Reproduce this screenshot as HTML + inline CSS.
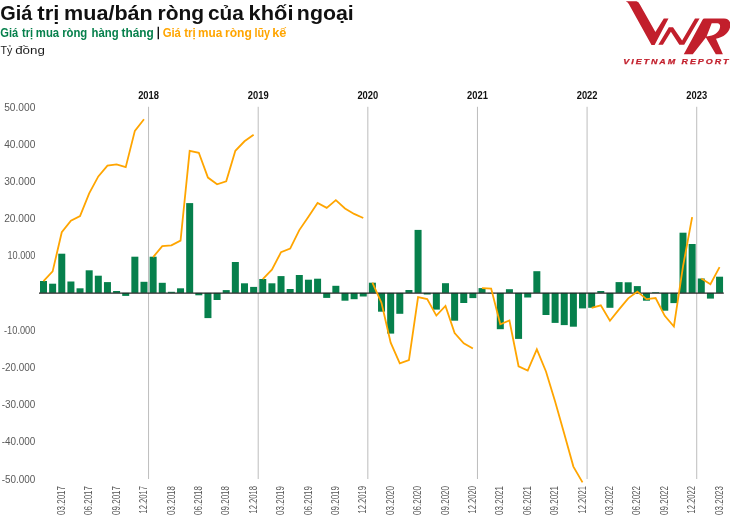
<!DOCTYPE html><html><head><meta charset="utf-8"><title>Giá trị mua/bán ròng của khối ngoại</title>
<style>html,body{margin:0;padding:0;background:#fff;}body{width:730px;height:516px;overflow:hidden;position:relative;}svg{display:block;position:absolute;left:0;top:0;will-change:transform;}.t{font-family:"Liberation Sans",Arial,sans-serif;}</style></head><body>
<svg width="730" height="516" viewBox="0 0 730 516">
<text class="t" x="0.18" y="19.6" font-size="19.5" font-weight="bold" fill="#111" textLength="32.05" lengthAdjust="spacingAndGlyphs">Giá</text>
<text class="t" x="37.37" y="19.6" font-size="19.5" font-weight="bold" fill="#111" textLength="22.11" lengthAdjust="spacingAndGlyphs">trị</text>
<text class="t" x="64.06" y="19.6" font-size="19.5" font-weight="bold" fill="#111" textLength="88.75" lengthAdjust="spacingAndGlyphs">mua/bán</text>
<text class="t" x="157.50" y="19.6" font-size="19.5" font-weight="bold" fill="#111" textLength="46.62" lengthAdjust="spacingAndGlyphs">ròng</text>
<text class="t" x="208.05" y="19.6" font-size="19.5" font-weight="bold" fill="#111" textLength="35.85" lengthAdjust="spacingAndGlyphs">của</text>
<text class="t" x="248.63" y="19.6" font-size="19.5" font-weight="bold" fill="#111" textLength="44.92" lengthAdjust="spacingAndGlyphs">khối</text>
<text class="t" x="296.88" y="19.6" font-size="19.5" font-weight="bold" fill="#111" textLength="56.85" lengthAdjust="spacingAndGlyphs">ngoại</text>
<text class="t" x="0.24" y="36.7" font-size="12" font-weight="bold" fill="#06804c" textLength="17.91" lengthAdjust="spacingAndGlyphs">Giá</text>
<text class="t" x="22.11" y="36.7" font-size="12" font-weight="bold" fill="#06804c" textLength="11.03" lengthAdjust="spacingAndGlyphs">trị</text>
<text class="t" x="35.84" y="36.7" font-size="12" font-weight="bold" fill="#06804c" textLength="23.33" lengthAdjust="spacingAndGlyphs">mua</text>
<text class="t" x="62.14" y="36.7" font-size="12" font-weight="bold" fill="#06804c" textLength="25.17" lengthAdjust="spacingAndGlyphs">ròng</text>
<text class="t" x="91.54" y="36.7" font-size="12" font-weight="bold" fill="#06804c" textLength="27.07" lengthAdjust="spacingAndGlyphs">hàng</text>
<text class="t" x="121.50" y="36.7" font-size="12" font-weight="bold" fill="#06804c" textLength="32.25" lengthAdjust="spacingAndGlyphs">tháng</text>
<text class="t" x="162.63" y="36.7" font-size="12" font-weight="bold" fill="#ffa500" textLength="18.22" lengthAdjust="spacingAndGlyphs">Giá</text>
<text class="t" x="184.30" y="36.7" font-size="12" font-weight="bold" fill="#ffa500" textLength="11.46" lengthAdjust="spacingAndGlyphs">trị</text>
<text class="t" x="198.01" y="36.7" font-size="12" font-weight="bold" fill="#ffa500" textLength="24.26" lengthAdjust="spacingAndGlyphs">mua</text>
<text class="t" x="224.99" y="36.7" font-size="12" font-weight="bold" fill="#ffa500" textLength="26.87" lengthAdjust="spacingAndGlyphs">ròng</text>
<text class="t" x="254.38" y="36.7" font-size="12" font-weight="bold" fill="#ffa500" textLength="15.66" lengthAdjust="spacingAndGlyphs">lũy</text>
<text class="t" x="272.15" y="36.7" font-size="12" font-weight="bold" fill="#ffa500" textLength="14.20" lengthAdjust="spacingAndGlyphs">kế</text>
<line x1="158.3" y1="26.7" x2="158.3" y2="39.2" stroke="#111" stroke-width="1.4"/>
<text class="t" x="0.42" y="54.1" font-size="11.4" fill="#1a1a1a" textLength="11.84" lengthAdjust="spacingAndGlyphs">Tỷ</text>
<text class="t" x="15.21" y="54.1" font-size="11.4" fill="#1a1a1a" textLength="29.68" lengthAdjust="spacingAndGlyphs">đồng</text>
<g fill="#c21f2c">
<path d="M625.7,1.2 L636.5,1.2 Q638.6,1.4 639.9,4.4 L655.4,31.9 L663.8,18.5 L668.5,18.5 L654.6,45 L651.5,45 L628.8,3.9 Q627.6,1.9 625.7,1.2 Z"/>
<path d="M658.3,44.8 L668.8,27.3 L673.0,27.3 L682.1,40.5 L695.0,18.5 L699.6,18.5 L684.2,44.8 L679.3,44.8 L670.9,31.8 L662.9,44.8 Z"/>
<path fill-rule="evenodd" d="M683.8,54.3 L702.4,19.9 Q703.1,18.6 704.6,18.6 L724,18.6 C728.5,18.6 730.8,21.5 730.3,25.8 C729.6,32 724.5,37 716,38.7 L722.9,54.3 L715.8,54.3 L705.9,37.4 L692.8,54.3 Z M711.7,23.2 L717.3,23.2 C720,23.2 720.6,25.8 719.7,28.4 C718.4,32.4 714.5,35.6 706.6,36.4 Z"/>
<text class="t" x="623.3" y="64.1" font-size="7.4" font-weight="bold" font-style="italic" letter-spacing="1.6" textLength="107" lengthAdjust="spacingAndGlyphs" stroke="#c21f2c" stroke-width="0.25">VIETNAM REPORT</text>
</g>
<line x1="148.56" y1="106.8" x2="148.56" y2="479" stroke="#bdbdbd" stroke-width="1"/>
<text class="t" x="148.56" y="98.8" font-size="10" font-weight="bold" fill="#111" text-anchor="middle" textLength="20.8" lengthAdjust="spacingAndGlyphs">2018</text>
<line x1="258.19" y1="106.8" x2="258.19" y2="479" stroke="#bdbdbd" stroke-width="1"/>
<text class="t" x="258.19" y="98.8" font-size="10" font-weight="bold" fill="#111" text-anchor="middle" textLength="20.8" lengthAdjust="spacingAndGlyphs">2019</text>
<line x1="367.83" y1="106.8" x2="367.83" y2="479" stroke="#bdbdbd" stroke-width="1"/>
<text class="t" x="367.83" y="98.8" font-size="10" font-weight="bold" fill="#111" text-anchor="middle" textLength="20.8" lengthAdjust="spacingAndGlyphs">2020</text>
<line x1="477.46" y1="106.8" x2="477.46" y2="479" stroke="#bdbdbd" stroke-width="1"/>
<text class="t" x="477.46" y="98.8" font-size="10" font-weight="bold" fill="#111" text-anchor="middle" textLength="20.8" lengthAdjust="spacingAndGlyphs">2021</text>
<line x1="587.09" y1="106.8" x2="587.09" y2="479" stroke="#bdbdbd" stroke-width="1"/>
<text class="t" x="587.09" y="98.8" font-size="10" font-weight="bold" fill="#111" text-anchor="middle" textLength="20.8" lengthAdjust="spacingAndGlyphs">2022</text>
<line x1="696.72" y1="106.8" x2="696.72" y2="479" stroke="#bdbdbd" stroke-width="1"/>
<text class="t" x="696.72" y="98.8" font-size="10" font-weight="bold" fill="#111" text-anchor="middle" textLength="20.8" lengthAdjust="spacingAndGlyphs">2023</text>
<text class="t" x="35.4" y="110.6" font-size="10.2" fill="#5a5a5a" text-anchor="end" textLength="31.2" lengthAdjust="spacingAndGlyphs">50.000</text>
<text class="t" x="35.4" y="147.8" font-size="10.2" fill="#5a5a5a" text-anchor="end" textLength="31.2" lengthAdjust="spacingAndGlyphs">40.000</text>
<text class="t" x="35.4" y="185.0" font-size="10.2" fill="#5a5a5a" text-anchor="end" textLength="31.2" lengthAdjust="spacingAndGlyphs">30.000</text>
<text class="t" x="35.4" y="222.2" font-size="10.2" fill="#5a5a5a" text-anchor="end" textLength="31.2" lengthAdjust="spacingAndGlyphs">20.000</text>
<text class="t" x="35.4" y="259.4" font-size="10.2" fill="#5a5a5a" text-anchor="end" textLength="27.9" lengthAdjust="spacingAndGlyphs">10.000</text>
<text class="t" x="35.4" y="333.8" font-size="10.2" fill="#5a5a5a" text-anchor="end" textLength="31.4" lengthAdjust="spacingAndGlyphs">-10.000</text>
<text class="t" x="35.4" y="371.0" font-size="10.2" fill="#5a5a5a" text-anchor="end" textLength="33.7" lengthAdjust="spacingAndGlyphs">-20.000</text>
<text class="t" x="35.4" y="408.2" font-size="10.2" fill="#5a5a5a" text-anchor="end" textLength="33.7" lengthAdjust="spacingAndGlyphs">-30.000</text>
<text class="t" x="35.4" y="445.4" font-size="10.2" fill="#5a5a5a" text-anchor="end" textLength="33.7" lengthAdjust="spacingAndGlyphs">-40.000</text>
<text class="t" x="35.4" y="482.6" font-size="10.2" fill="#5a5a5a" text-anchor="end" textLength="33.7" lengthAdjust="spacingAndGlyphs">-50.000</text>
<rect x="40.00" y="281.00" width="7.0" height="11.90" fill="#06804c"/>
<rect x="49.13" y="283.70" width="7.0" height="9.20" fill="#06804c"/>
<rect x="58.27" y="253.70" width="7.0" height="39.20" fill="#06804c"/>
<rect x="67.41" y="281.50" width="7.0" height="11.40" fill="#06804c"/>
<rect x="76.54" y="288.30" width="7.0" height="4.60" fill="#06804c"/>
<rect x="85.68" y="270.30" width="7.0" height="22.60" fill="#06804c"/>
<rect x="94.81" y="275.70" width="7.0" height="17.20" fill="#06804c"/>
<rect x="103.95" y="282.10" width="7.0" height="10.80" fill="#06804c"/>
<rect x="113.09" y="291.00" width="7.0" height="1.90" fill="#06804c"/>
<rect x="122.22" y="292.90" width="7.0" height="3.00" fill="#06804c"/>
<rect x="131.36" y="256.70" width="7.0" height="36.20" fill="#06804c"/>
<rect x="140.49" y="281.80" width="7.0" height="11.10" fill="#06804c"/>
<rect x="149.63" y="256.70" width="7.0" height="36.20" fill="#06804c"/>
<rect x="158.77" y="282.80" width="7.0" height="10.10" fill="#06804c"/>
<rect x="167.90" y="291.80" width="7.0" height="1.10" fill="#06804c"/>
<rect x="177.04" y="288.30" width="7.0" height="4.60" fill="#06804c"/>
<rect x="186.17" y="203.10" width="7.0" height="89.80" fill="#06804c"/>
<rect x="195.31" y="292.90" width="7.0" height="2.40" fill="#06804c"/>
<rect x="204.45" y="292.90" width="7.0" height="25.20" fill="#06804c"/>
<rect x="213.58" y="292.90" width="7.0" height="7.10" fill="#06804c"/>
<rect x="222.72" y="290.10" width="7.0" height="2.80" fill="#06804c"/>
<rect x="231.85" y="262.00" width="7.0" height="30.90" fill="#06804c"/>
<rect x="240.99" y="283.30" width="7.0" height="9.60" fill="#06804c"/>
<rect x="250.13" y="286.90" width="7.0" height="6.00" fill="#06804c"/>
<rect x="259.26" y="279.00" width="7.0" height="13.90" fill="#06804c"/>
<rect x="268.40" y="283.30" width="7.0" height="9.60" fill="#06804c"/>
<rect x="277.53" y="276.10" width="7.0" height="16.80" fill="#06804c"/>
<rect x="286.67" y="289.00" width="7.0" height="3.90" fill="#06804c"/>
<rect x="295.81" y="275.00" width="7.0" height="17.90" fill="#06804c"/>
<rect x="304.94" y="279.70" width="7.0" height="13.20" fill="#06804c"/>
<rect x="314.08" y="278.70" width="7.0" height="14.20" fill="#06804c"/>
<rect x="323.21" y="292.90" width="7.0" height="5.00" fill="#06804c"/>
<rect x="332.35" y="285.80" width="7.0" height="7.10" fill="#06804c"/>
<rect x="341.49" y="292.90" width="7.0" height="7.80" fill="#06804c"/>
<rect x="350.62" y="292.90" width="7.0" height="6.30" fill="#06804c"/>
<rect x="359.76" y="292.90" width="7.0" height="3.60" fill="#06804c"/>
<rect x="368.89" y="282.70" width="7.0" height="10.20" fill="#06804c"/>
<rect x="378.03" y="292.90" width="7.0" height="18.80" fill="#06804c"/>
<rect x="387.17" y="292.90" width="7.0" height="40.70" fill="#06804c"/>
<rect x="396.30" y="292.90" width="7.0" height="20.90" fill="#06804c"/>
<rect x="405.44" y="290.00" width="7.0" height="2.90" fill="#06804c"/>
<rect x="414.57" y="229.90" width="7.0" height="63.00" fill="#06804c"/>
<rect x="423.71" y="292.90" width="7.0" height="1.60" fill="#06804c"/>
<rect x="432.85" y="292.90" width="7.0" height="16.70" fill="#06804c"/>
<rect x="441.98" y="283.20" width="7.0" height="9.70" fill="#06804c"/>
<rect x="451.12" y="292.90" width="7.0" height="27.80" fill="#06804c"/>
<rect x="460.25" y="292.90" width="7.0" height="10.10" fill="#06804c"/>
<rect x="469.39" y="292.90" width="7.0" height="5.20" fill="#06804c"/>
<rect x="478.53" y="288.10" width="7.0" height="4.80" fill="#06804c"/>
<rect x="487.66" y="292.90" width="7.0" height="0.40" fill="#06804c"/>
<rect x="496.80" y="292.90" width="7.0" height="36.30" fill="#06804c"/>
<rect x="505.93" y="289.20" width="7.0" height="3.70" fill="#06804c"/>
<rect x="515.07" y="292.90" width="7.0" height="46.00" fill="#06804c"/>
<rect x="524.21" y="292.90" width="7.0" height="4.60" fill="#06804c"/>
<rect x="533.34" y="271.20" width="7.0" height="21.70" fill="#06804c"/>
<rect x="542.48" y="292.90" width="7.0" height="22.10" fill="#06804c"/>
<rect x="551.61" y="292.90" width="7.0" height="30.00" fill="#06804c"/>
<rect x="560.75" y="292.90" width="7.0" height="32.20" fill="#06804c"/>
<rect x="569.89" y="292.90" width="7.0" height="33.80" fill="#06804c"/>
<rect x="579.02" y="292.90" width="7.0" height="15.50" fill="#06804c"/>
<rect x="588.16" y="292.90" width="7.0" height="14.90" fill="#06804c"/>
<rect x="597.29" y="291.00" width="7.0" height="1.90" fill="#06804c"/>
<rect x="606.43" y="292.90" width="7.0" height="14.90" fill="#06804c"/>
<rect x="615.57" y="282.10" width="7.0" height="10.80" fill="#06804c"/>
<rect x="624.70" y="282.30" width="7.0" height="10.60" fill="#06804c"/>
<rect x="633.84" y="286.10" width="7.0" height="6.80" fill="#06804c"/>
<rect x="642.97" y="292.90" width="7.0" height="7.80" fill="#06804c"/>
<rect x="652.11" y="292.20" width="7.0" height="0.70" fill="#06804c"/>
<rect x="661.25" y="292.90" width="7.0" height="17.80" fill="#06804c"/>
<rect x="670.38" y="292.90" width="7.0" height="10.20" fill="#06804c"/>
<rect x="679.52" y="232.70" width="7.0" height="60.20" fill="#06804c"/>
<rect x="688.65" y="244.00" width="7.0" height="48.90" fill="#06804c"/>
<rect x="697.79" y="278.50" width="7.0" height="14.40" fill="#06804c"/>
<rect x="706.93" y="292.90" width="7.0" height="5.70" fill="#06804c"/>
<rect x="716.06" y="276.70" width="7.0" height="16.20" fill="#06804c"/>
<line x1="39" y1="293.1" x2="723.8" y2="293.1" stroke="#262626" stroke-width="1.3"/>
<polyline points="43.50,281.10 52.63,271.40 61.77,232.20 70.91,220.60 80.04,216.00 89.18,193.30 98.31,176.40 107.45,165.70 116.59,164.40 125.72,167.20 134.86,130.90 143.99,119.30" fill="none" stroke="#ffa500" stroke-width="1.8" stroke-linejoin="miter"/>
<polyline points="153.13,257.10 162.27,246.20 171.40,245.40 180.54,240.60 189.67,150.80 198.81,152.80 207.95,177.60 217.08,184.30 226.22,181.30 235.35,150.80 244.49,141.30 253.63,134.80" fill="none" stroke="#ffa500" stroke-width="1.8" stroke-linejoin="miter"/>
<polyline points="262.76,279.20 271.90,269.60 281.03,252.20 290.17,248.60 299.31,230.10 308.44,216.70 317.58,202.90 326.71,207.90 335.85,200.10 344.99,208.40 354.12,213.90 363.26,218.00" fill="none" stroke="#ffa500" stroke-width="1.8" stroke-linejoin="miter"/>
<polyline points="372.39,282.60 381.53,303.00 390.67,342.70 399.80,363.40 408.94,360.20 418.07,297.10 427.21,299.10 436.35,315.60 445.48,305.90 454.62,333.00 463.75,343.30 472.89,348.50" fill="none" stroke="#ffa500" stroke-width="1.8" stroke-linejoin="miter"/>
<polyline points="482.03,288.10 491.16,288.50 500.30,324.30 509.43,320.50 518.57,366.30 527.71,370.60 536.84,349.30 545.98,371.50 555.11,401.50 564.25,433.70 573.39,466.60 582.52,482.40" fill="none" stroke="#ffa500" stroke-width="1.8" stroke-linejoin="miter"/>
<polyline points="591.66,307.80 600.79,305.40 609.93,320.70 619.07,309.40 628.20,298.40 637.34,291.60 646.47,299.10 655.61,298.00 664.75,315.80 673.88,326.50 683.02,266.30 692.15,217.10" fill="none" stroke="#ffa500" stroke-width="1.8" stroke-linejoin="miter"/>
<polyline points="701.29,278.50 710.43,284.20 719.56,267.10" fill="none" stroke="#ffa500" stroke-width="1.8" stroke-linejoin="miter"/>
<text class="t" transform="translate(64.87,486.0) rotate(-90)" font-size="10.2" fill="#555" text-anchor="end" textLength="28.9" lengthAdjust="spacingAndGlyphs">03.2017</text>
<text class="t" transform="translate(92.28,486.0) rotate(-90)" font-size="10.2" fill="#555" text-anchor="end" textLength="28.9" lengthAdjust="spacingAndGlyphs">06.2017</text>
<text class="t" transform="translate(119.69,486.0) rotate(-90)" font-size="10.2" fill="#555" text-anchor="end" textLength="28.9" lengthAdjust="spacingAndGlyphs">09.2017</text>
<text class="t" transform="translate(147.09,486.0) rotate(-90)" font-size="10.2" fill="#555" text-anchor="end" textLength="27.6" lengthAdjust="spacingAndGlyphs">12.2017</text>
<text class="t" transform="translate(174.50,486.0) rotate(-90)" font-size="10.2" fill="#555" text-anchor="end" textLength="28.9" lengthAdjust="spacingAndGlyphs">03.2018</text>
<text class="t" transform="translate(201.91,486.0) rotate(-90)" font-size="10.2" fill="#555" text-anchor="end" textLength="28.9" lengthAdjust="spacingAndGlyphs">06.2018</text>
<text class="t" transform="translate(229.32,486.0) rotate(-90)" font-size="10.2" fill="#555" text-anchor="end" textLength="28.9" lengthAdjust="spacingAndGlyphs">09.2018</text>
<text class="t" transform="translate(256.73,486.0) rotate(-90)" font-size="10.2" fill="#555" text-anchor="end" textLength="27.6" lengthAdjust="spacingAndGlyphs">12.2018</text>
<text class="t" transform="translate(284.13,486.0) rotate(-90)" font-size="10.2" fill="#555" text-anchor="end" textLength="28.9" lengthAdjust="spacingAndGlyphs">03.2019</text>
<text class="t" transform="translate(311.54,486.0) rotate(-90)" font-size="10.2" fill="#555" text-anchor="end" textLength="28.9" lengthAdjust="spacingAndGlyphs">06.2019</text>
<text class="t" transform="translate(338.95,486.0) rotate(-90)" font-size="10.2" fill="#555" text-anchor="end" textLength="28.9" lengthAdjust="spacingAndGlyphs">09.2019</text>
<text class="t" transform="translate(366.36,486.0) rotate(-90)" font-size="10.2" fill="#555" text-anchor="end" textLength="27.6" lengthAdjust="spacingAndGlyphs">12.2019</text>
<text class="t" transform="translate(393.77,486.0) rotate(-90)" font-size="10.2" fill="#555" text-anchor="end" textLength="28.9" lengthAdjust="spacingAndGlyphs">03.2020</text>
<text class="t" transform="translate(421.17,486.0) rotate(-90)" font-size="10.2" fill="#555" text-anchor="end" textLength="28.9" lengthAdjust="spacingAndGlyphs">06.2020</text>
<text class="t" transform="translate(448.58,486.0) rotate(-90)" font-size="10.2" fill="#555" text-anchor="end" textLength="28.9" lengthAdjust="spacingAndGlyphs">09.2020</text>
<text class="t" transform="translate(475.99,486.0) rotate(-90)" font-size="10.2" fill="#555" text-anchor="end" textLength="27.6" lengthAdjust="spacingAndGlyphs">12.2020</text>
<text class="t" transform="translate(503.40,486.0) rotate(-90)" font-size="10.2" fill="#555" text-anchor="end" textLength="28.9" lengthAdjust="spacingAndGlyphs">03.2021</text>
<text class="t" transform="translate(530.81,486.0) rotate(-90)" font-size="10.2" fill="#555" text-anchor="end" textLength="28.9" lengthAdjust="spacingAndGlyphs">06.2021</text>
<text class="t" transform="translate(558.21,486.0) rotate(-90)" font-size="10.2" fill="#555" text-anchor="end" textLength="28.9" lengthAdjust="spacingAndGlyphs">09.2021</text>
<text class="t" transform="translate(585.62,486.0) rotate(-90)" font-size="10.2" fill="#555" text-anchor="end" textLength="27.6" lengthAdjust="spacingAndGlyphs">12.2021</text>
<text class="t" transform="translate(613.03,486.0) rotate(-90)" font-size="10.2" fill="#555" text-anchor="end" textLength="28.9" lengthAdjust="spacingAndGlyphs">03.2022</text>
<text class="t" transform="translate(640.44,486.0) rotate(-90)" font-size="10.2" fill="#555" text-anchor="end" textLength="28.9" lengthAdjust="spacingAndGlyphs">06.2022</text>
<text class="t" transform="translate(667.85,486.0) rotate(-90)" font-size="10.2" fill="#555" text-anchor="end" textLength="28.9" lengthAdjust="spacingAndGlyphs">09.2022</text>
<text class="t" transform="translate(695.25,486.0) rotate(-90)" font-size="10.2" fill="#555" text-anchor="end" textLength="27.6" lengthAdjust="spacingAndGlyphs">12.2022</text>
<text class="t" transform="translate(722.66,486.0) rotate(-90)" font-size="10.2" fill="#555" text-anchor="end" textLength="28.9" lengthAdjust="spacingAndGlyphs">03.2023</text>
</svg></body></html>
